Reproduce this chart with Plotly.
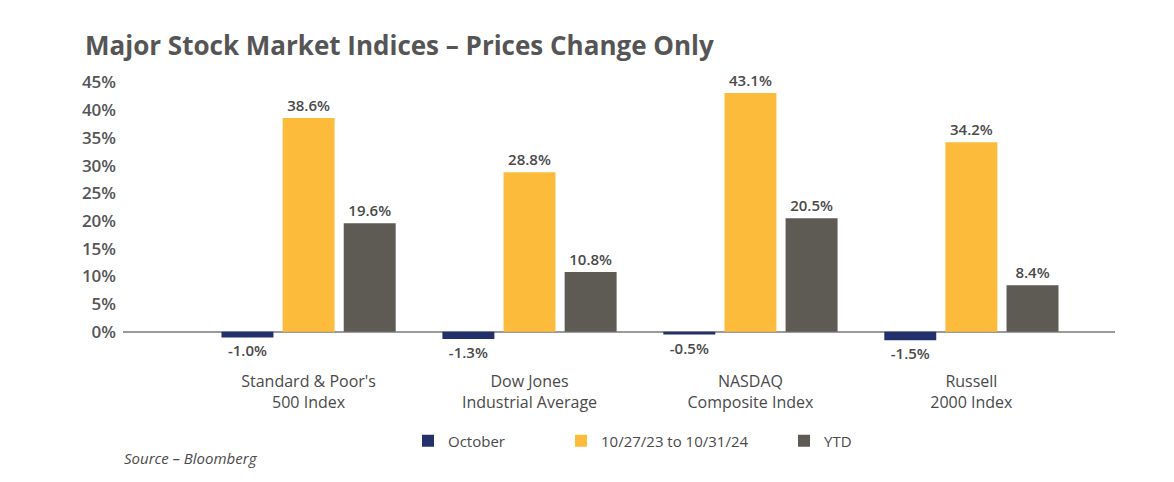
import plotly.graph_objects as go

categories = ["Standard & Poor's<br>500 Index", "Dow Jones<br>Industrial Average",
              "NASDAQ<br>Composite Index", "Russell<br>2000 Index"]
october = [-1.0, -1.3, -0.5, -1.5]
one_year = [38.6, 28.8, 43.1, 34.2]
ytd = [19.6, 10.8, 20.5, 8.4]
series_names = ["October", "10/27/23 to 10/31/24", "YTD"]
tick_vals = [0, 5, 10, 15, 20, 25, 30, 35, 40, 45]
tick_text = ["0%", "5%", "10%", "15%", "20%", "25%", "30%", "35%", "40%", "45%"]

colors = ["#22316c", "#fdbb3c", "#5e5a54"]
FONT = "Open Sans"
TXT = "#4a4a4a"

fig = go.Figure()
for i, (name, vals) in enumerate(zip(series_names, [october, one_year, ytd])):
    fig.add_trace(go.Bar(
        x=categories, y=vals, name=name,
        marker=dict(color=colors[i], line=dict(width=0)),
        text=[f"{v:.1f}%" for v in vals], textposition="outside",
        textfont=dict(family=FONT, size=15, color=TXT, weight=600),
        cliponaxis=False,
        legend="legend" if i == 0 else f"legend{i+1}",
    ))

leg_common = dict(orientation="h", yanchor="middle", xanchor="left",
                  font=dict(family=FONT, size=15, color=TXT, weight=500),
                  bgcolor="rgba(0,0,0,0)", xref="container", yref="container")

pw = 1174 - 123 - 59
ph = 482 - 77 - 135

fig.update_layout(
    width=1174, height=482,
    margin=dict(l=123, r=59, t=77, b=135),
    plot_bgcolor="white", paper_bgcolor="white",
    barmode="group", bargap=0.17, bargroupgap=0.15,
    title=dict(text="Major Stock Market Indices – Prices Change Only",
               x=85/1174, xanchor="left", xref="container",
               y=1 - 46/482, yanchor="middle", yref="container",
               font=dict(family=FONT, size=26, color="#555555", weight=700)),
    xaxis=dict(range=[-0.84, 3.65], showgrid=False, showline=False,
               tickfont=dict(family=FONT, size=16, color=TXT, weight=500),
               ticklabelstandoff=24),
    yaxis=dict(range=[-2.5, 46], tickvals=tick_vals, ticktext=tick_text,
               showgrid=False, zeroline=True, zerolinecolor="#9a9a9a", zerolinewidth=1.5,
               tickfont=dict(family=FONT, size=17, color="#555555", weight=600),
               ticklabelstandoff=6),
    legend=dict(x=(422 - 14) / 1174, y=1 - 441 / 482, **leg_common),
    legend2=dict(x=(575 - 14) / 1174, y=1 - 441 / 482, **leg_common),
    legend3=dict(x=(798 - 14) / 1174, y=1 - 441 / 482, **leg_common),
    showlegend=True,
)
fig.add_annotation(text="<i>Source – Bloomberg</i>",
                   x=(122 - 123) / pw, y=(482 - 135 - 460) / ph,
                   xref="paper", yref="paper", xanchor="left", yanchor="middle",
                   showarrow=False, font=dict(family=FONT, size=15, color=TXT))

fig.write_html("out.html")
